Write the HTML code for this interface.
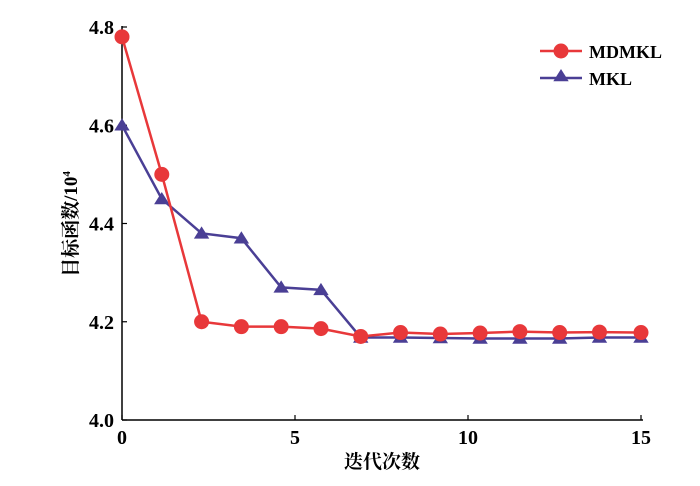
<!DOCTYPE html>
<html><head><meta charset="utf-8"><style>
body{margin:0;background:#fff;}
svg text{font-family:"Liberation Serif","Noto Serif CJK SC",serif;}
</style></head><body>
<svg id="c" width="700" height="481"></svg>
<script>
const xTicks=[0,5,10,15];
const yTicks=[4.0,4.2,4.4,4.6,4.8];
const iterations=[0,1.15,2.3,3.45,4.6,5.75,6.9,8.05,9.2,10.35,11.5,12.65,13.8,15];
const mdmkl=[4.78,4.50,4.20,4.19,4.19,4.186,4.17,4.178,4.175,4.177,4.18,4.178,4.179,4.178];
const mkl=[4.60,4.45,4.38,4.37,4.27,4.265,4.168,4.168,4.167,4.166,4.166,4.166,4.168,4.168];
const NS="http://www.w3.org/2000/svg";
const svg=document.getElementById('c');
const X0=122,X1=641,Y0=420,Y1=27;
const sx=v=>X0+(v-0)/15*(X1-X0);
const sy=v=>Y0-(v-4.0)/0.8*(Y0-Y1);
function mk(t,a,p){const e=document.createElementNS(NS,t);for(const k in a)e.setAttribute(k,a[k]);(p||svg).appendChild(e);return e;}
let ax=mk('line',{x1:X0,y1:Y1-1,x2:X0,y2:Y0,stroke:'#000','stroke-width':1.5});


let bx=mk('line',{x1:X0,y1:Y0,x2:X1+2,y2:Y0,stroke:'#000','stroke-width':1.5});


yTicks.forEach(v=>{
 let t=mk('line',{x1:X0,x2:X0+5,y1:sy(v),y2:sy(v),stroke:'#000','stroke-width':1.2});
 
 
 let l=mk('text',{x:X0-8,y:sy(v)+7,'text-anchor':'end','font-size':20,'font-weight':'bold'});
 l.textContent=v.toFixed(1);
 
 
});
xTicks.forEach(v=>{
 let t=mk('line',{x1:sx(v),x2:sx(v),y1:Y0,y2:Y0-5,stroke:'#000','stroke-width':1.2});
 
 
 let l=mk('text',{x:sx(v),y:Y0+24,'text-anchor':'middle','font-size':20,'font-weight':'bold'});
 l.textContent=v;
 
 
});
let xt=mk('text',{x:382,y:468,'text-anchor':'middle','font-size':19,'font-weight':'bold'});
xt.textContent='迭代次数';


let yt=mk('text',{x:0,y:0,'text-anchor':'middle','font-size':19,'font-weight':'bold',transform:'translate(77,224) rotate(-90)'});
yt.innerHTML='目标函数/10<tspan font-size="11" dy="-7">4</tspan>';


function tri(cx,cy,s){return `${cx},${cy-s} ${cx-s*1.1},${cy+s*0.75} ${cx+s*1.1},${cy+s*0.75}`;}
function series(vals,color,marker,name){
 let pts=vals.map((v,i)=>sx(iterations[i])+','+sy(v)).join(' ');
 let pl=mk('polyline',{points:pts,fill:'none',stroke:color,'stroke-width':2.5});
 
 
 vals.forEach((v,i)=>{
  let m;
  if(marker==='c') m=mk('circle',{cx:sx(iterations[i]),cy:sy(v),r:7.5,fill:color});
  else m=mk('polygon',{points:tri(sx(iterations[i]),sy(v),7),fill:color});
  
  
 });
}
series(mkl,'#4a3f95','t','mkl');
series(mdmkl,'#e8383a','c','mdmkl');
let g1=mk('g',{});


mk('line',{x1:540,x2:582,y1:51,y2:51,stroke:'#e8383a','stroke-width':2.5},g1);
mk('circle',{cx:561,cy:51,r:7.5,fill:'#e8383a'},g1);
let t1=mk('text',{x:589,y:58,'font-size':18,'font-weight':'bold'},g1);t1.textContent='MDMKL';
let g2=mk('g',{});


mk('line',{x1:540,x2:582,y1:78,y2:78,stroke:'#4a3f95','stroke-width':2.5},g2);
mk('polygon',{points:tri(561,76,7),fill:'#4a3f95'},g2);
let t2=mk('text',{x:589,y:85,'font-size':18,'font-weight':'bold'},g2);t2.textContent='MKL';
</script>
</body></html>
